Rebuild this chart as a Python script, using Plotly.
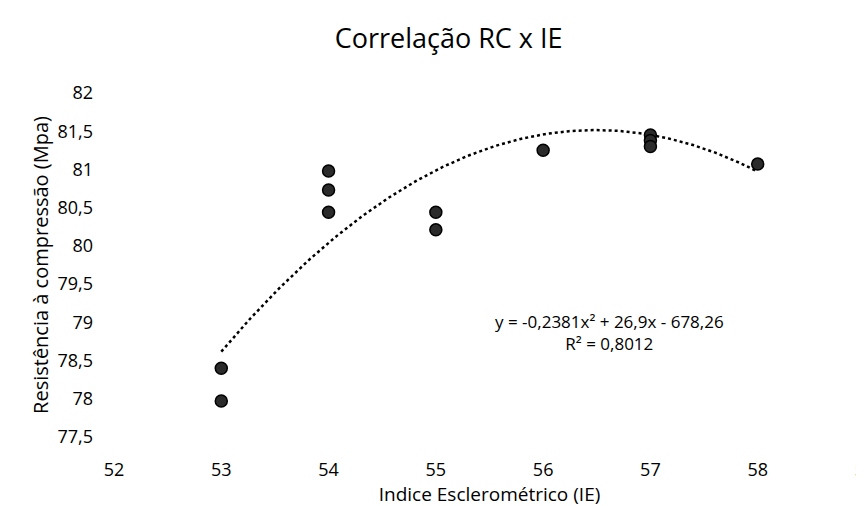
import plotly.graph_objects as go
import numpy as np

# Data
ie = [53, 53, 54, 54, 54, 55, 55, 56, 57, 57, 57, 58]
rc = [78.40, 77.97, 80.98, 80.73, 80.44, 80.44, 80.21, 81.25, 81.45, 81.38, 81.30, 81.07]

# Trendline coefficients as shown on the chart
coef_a, coef_b, coef_c = -0.2381, 26.9, -678.26
trend_x = np.linspace(53, 58, 200)
trend_y = coef_a * trend_x**2 + coef_b * trend_x + coef_c

x_ticks = [52, 53, 54, 55, 56, 57, 58, 59]
x_tick_text = ["52", "53", "54", "55", "56", "57", "58", "59"]
y_ticks = [77.5, 78, 78.5, 79, 79.5, 80, 80.5, 81, 81.5, 82]
y_tick_text = ["77,5", "78", "78,5", "79", "79,5", "80", "80,5", "81", "81,5", "82"]

font_family = "Open Sans, Liberation Sans, sans-serif"

fig = go.Figure()
fig.add_trace(go.Scatter(
    x=trend_x, y=trend_y, mode="lines",
    line=dict(color="black", width=2.5, dash="dot"),
    hoverinfo="skip", showlegend=False))
fig.add_trace(go.Scatter(
    x=ie, y=rc, mode="markers",
    marker=dict(size=12, color="#2b2b2b", line=dict(color="black", width=1.5)),
    showlegend=False))

fig.add_annotation(
    x=0.66, y=0.305, xref="paper", yref="paper", xanchor="center", yanchor="middle",
    text="y = -0,2381x² + 26,9x - 678,26<br>R² = 0,8012",
    showarrow=False, align="center",
    font=dict(family=font_family, size=17, color="black"))

fig.update_layout(
    width=864, height=506,
    paper_bgcolor="white", plot_bgcolor="white",
    margin=dict(l=106, r=7, t=85, b=77),
    title=dict(text="Correlação RC x IE", x=0.51, xanchor="center", y=0.94, yanchor="middle",
               font=dict(family=font_family, size=27, color="black")),
    font=dict(family=font_family, color="black"),
    xaxis=dict(range=[52, 59.0001], tickvals=x_ticks, ticktext=x_tick_text,
               showgrid=False, zeroline=False, showline=False, ticks="",
               automargin=False, ticklabelstandoff=20, ticklabeloverflow="allow",
               tickfont=dict(size=18, color="black"),
               title=dict(text="Indice Esclerométrico (IE)", font=dict(size=19, color="black"), standoff=6)),
    yaxis=dict(range=[77.5, 82], tickvals=y_ticks, ticktext=y_tick_text,
               showgrid=False, zeroline=False, showline=False, ticks="",
               automargin=False, ticklabelstandoff=20, ticklabeloverflow="allow",
               tickfont=dict(size=18, color="black"),
               title=dict(text="Resistência à compressão (Mpa)", font=dict(size=20, color="black"), standoff=3)),
)

fig.write_html("out.html")
